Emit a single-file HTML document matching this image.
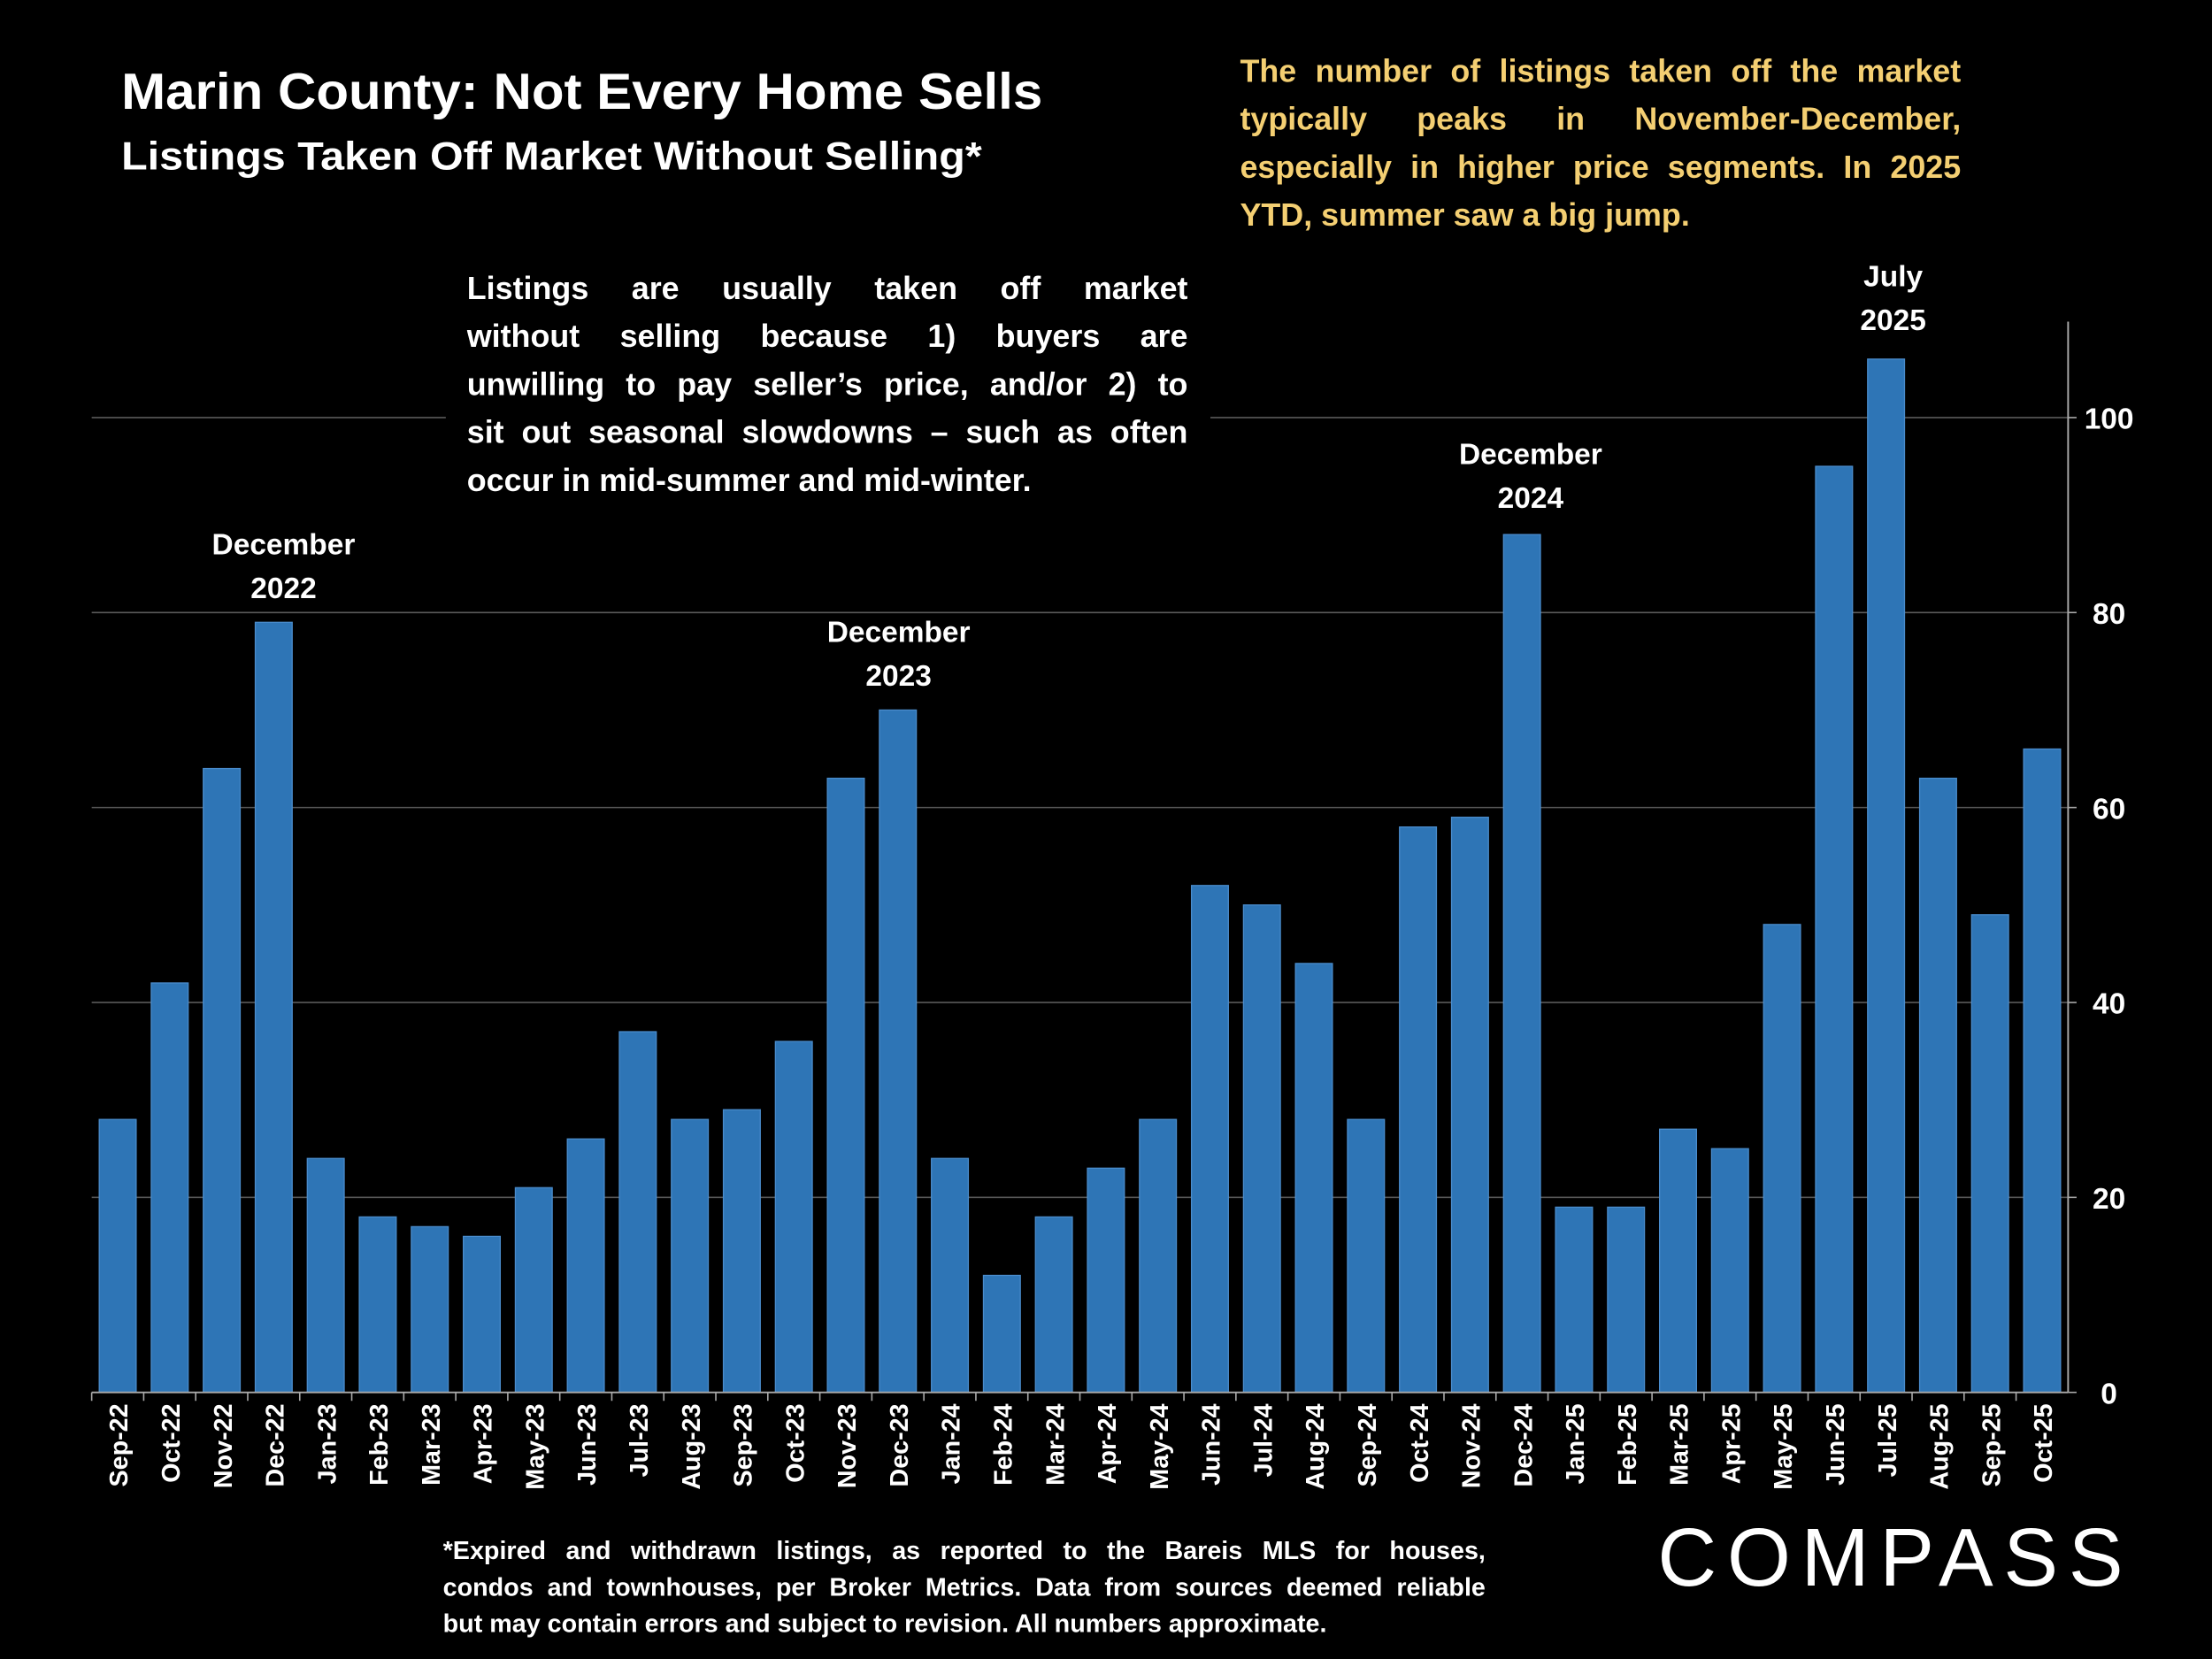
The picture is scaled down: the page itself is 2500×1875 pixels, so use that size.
<!DOCTYPE html>
<html><head><meta charset="utf-8"><style>
html,body{margin:0;padding:0;background:#000;}
svg{display:block;font-family:"Liberation Sans",sans-serif;}
.jl{font-family:"Liberation Sans",sans-serif;font-weight:bold;white-space:nowrap;text-align:justify;text-align-last:justify;margin:0;}
.jl.last{text-align-last:left;}
</style></head><body>
<svg id="chart" width="2500" height="1875" viewBox="0 0 1568 1176" xmlns="http://www.w3.org/2000/svg">
<rect width="1568" height="1176" fill="#000"/>
<g id="grid"></g>
<g id="bars"></g>
<g id="axes"></g>
<text x="86" y="77" fill="#fff" font-size="36" font-weight="bold" textLength="653" lengthAdjust="spacingAndGlyphs">Marin County: Not Every Home Sells</text>
<text x="86" y="120" fill="#fff" font-size="28" font-weight="bold" textLength="610" lengthAdjust="spacingAndGlyphs">Listings Taken Off Market Without Selling*</text>
<foreignObject x="879" y="34" width="511" height="140">
<div xmlns="http://www.w3.org/1999/xhtml" style="color:#f4cf72;font-size:22.5px;line-height:34px;">
<div class="jl">The number of listings taken off the market</div>
<div class="jl">typically peaks in November-December,</div>
<div class="jl">especially in higher price segments. In 2025</div>
<div class="jl last">YTD, summer saw a big jump.</div>
</div></foreignObject>
<rect x="316" y="188" width="542" height="172" fill="#000"/>
<foreignObject x="331" y="188" width="511" height="172">
<div xmlns="http://www.w3.org/1999/xhtml" style="color:#fff;font-size:22.5px;line-height:34px;">
<div class="jl">Listings are usually taken off market</div>
<div class="jl">without selling because 1) buyers are</div>
<div class="jl">unwilling to pay seller’s price, and/or 2) to</div>
<div class="jl">sit out seasonal slowdowns – such as often</div>
<div class="jl last">occur in mid-summer and mid-winter.</div>
</div></foreignObject>
<g fill="#fff" font-size="21" font-weight="bold" text-anchor="middle">
<text x="201" y="393">December</text><text x="201" y="424">2022</text>
<text x="637" y="455">December</text><text x="637" y="486">2023</text>
<text x="1085" y="329">December</text><text x="1085" y="360">2024</text>
<text x="1342" y="203">July</text><text x="1342" y="234">2025</text>
</g>
<foreignObject x="314" y="1086" width="739" height="80">
<div xmlns="http://www.w3.org/1999/xhtml" style="color:#fff;font-size:18px;line-height:26px;">
<div class="jl">*Expired and withdrawn listings, as reported to the Bareis MLS for houses,</div>
<div class="jl">condos and townhouses, per Broker Metrics. Data from sources deemed reliable</div>
<div class="jl last">but may contain errors and subject to revision. All numbers approximate.</div>
</div></foreignObject>
<text x="1175" y="1124" fill="#fff" font-size="58" textLength="330" lengthAdjust="spacing">COMPASS</text>
</svg>
<script>
const categories = ["Sep-22","Oct-22","Nov-22","Dec-22","Jan-23","Feb-23","Mar-23","Apr-23","May-23","Jun-23","Jul-23","Aug-23","Sep-23","Oct-23","Nov-23","Dec-23","Jan-24","Feb-24","Mar-24","Apr-24","May-24","Jun-24","Jul-24","Aug-24","Sep-24","Oct-24","Nov-24","Dec-24","Jan-25","Feb-25","Mar-25","Apr-25","May-25","Jun-25","Jul-25","Aug-25","Sep-25","Oct-25"];
const listingsOff = [28,42,64,79,24,18,17,16,21,26,37,28,29,36,63,70,24,12,18,23,28,52,50,44,28,58,59,88,19,19,27,25,48,95,106,63,49,66];
const yTicks = [0,20,40,60,80,100];
const NS = "http://www.w3.org/2000/svg";
const X0 = 65, X1 = 1466, Y0 = 987, Y100 = 296, YTOP = 228;
const yScale = v => Y0 - (Y0 - Y100) * v / 100;
const step = (X1 - X0) / categories.length;
const xCenter = i => X0 + step * (i + 0.5);
const barW = step * 0.71;
function mk(tag, attrs, parent){ const e=document.createElementNS(NS,tag); for(const k in attrs) e.setAttribute(k,attrs[k]); parent.appendChild(e); return e; }
const grid = document.getElementById('grid'), bars = document.getElementById('bars'), axes = document.getElementById('axes');
yTicks.forEach(t => {
  const y = yScale(t);
  if (t > 0) {
    const g = mk('line',{x1:X0,x2:X1,y1:y,y2:y,stroke:'#5a5a5a','stroke-width':1},grid);
    
    
  }
  const tk = mk('line',{x1:X1,x2:X1+6,y1:y,y2:y,stroke:'#aaa','stroke-width':1},axes);
  
  
  const lb = mk('text',{x:1495,y:y+8,fill:'#fff','font-size':21,'font-weight':'bold','text-anchor':'middle'},axes);
  lb.textContent = t;
  
  
});
const ya = mk('line',{x1:X1,x2:X1,y1:YTOP,y2:Y0,stroke:'#aaa','stroke-width':1.2},axes);


const xa = mk('line',{x1:X0,x2:X1,y1:Y0,y2:Y0,stroke:'#aaa','stroke-width':1.2},axes);


listingsOff.forEach((v,i) => {
  const cx = xCenter(i), y = yScale(v);
  const r = mk('rect',{x:cx-barW/2,y:y,width:barW,height:Y0-y,fill:'#2e75b6',stroke:'#4a8ccc','stroke-width':0.8},bars);
  
  
  const tk = mk('line',{x1:X0+step*i,x2:X0+step*i,y1:Y0,y2:Y0+6,stroke:'#aaa','stroke-width':1},axes);
  
  
  const lb = mk('text',{x:0,y:0,fill:'#fff','font-size':18,'font-weight':'bold','text-anchor':'end',transform:`translate(${cx+7},${Y0+8}) rotate(-90)`},axes);
  lb.textContent = categories[i];
  
  
});
</script>
</body></html>
